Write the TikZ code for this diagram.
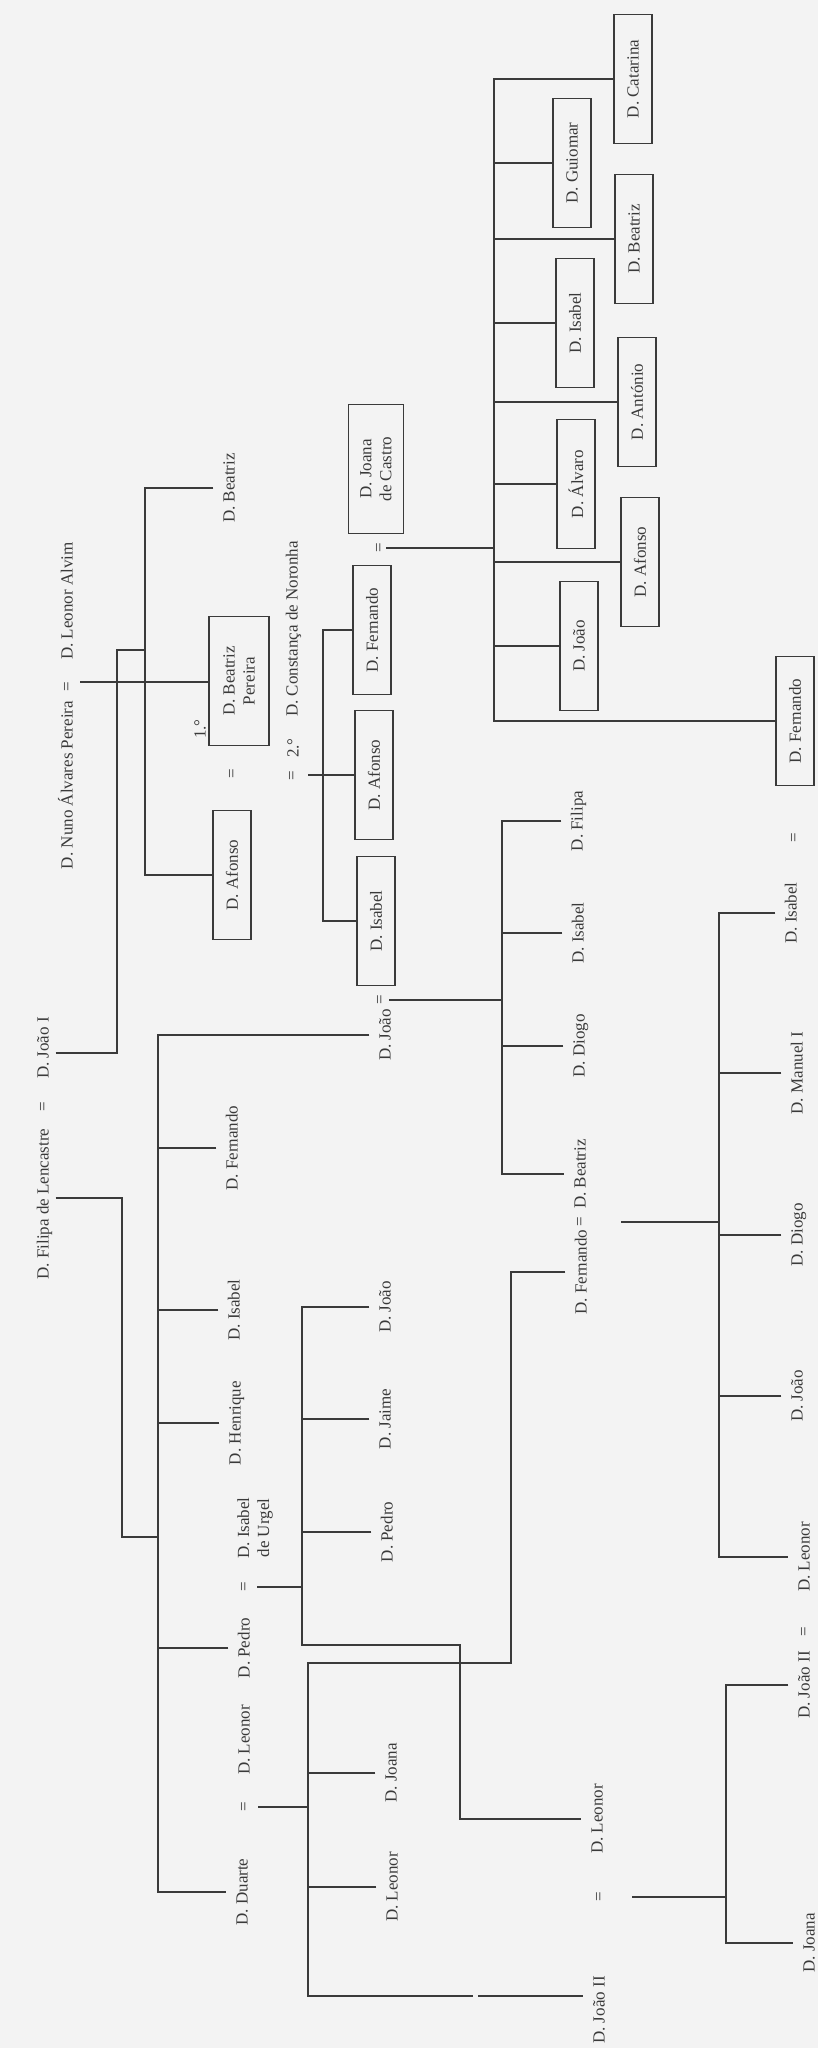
\documentclass[tikz,border=0pt]{standalone}
\usepackage{fontspec}
\setmainfont{Liberation Serif}
\definecolor{ink}{RGB}{58,58,58}
\definecolor{paper}{RGB}{243,243,243}
\begin{document}
\begin{tikzpicture}[x=1bp,y=-1bp,
  ln/.style={draw=ink,line width=1.6bp},
  lbl/.style={rotate=90,text=ink,font=\fontsize{17bp}{20bp}\selectfont,text height=12bp,text depth=3bp,inner xsep=0pt,inner ysep=9bp},
  lblt/.style={lbl,inner ysep=4bp},
  lbltwo/.style={rotate=90,text=ink,font=\fontsize{17bp}{20bp}\selectfont,align=center,inner sep=0pt},
  eqs/.style={rotate=90,text=ink,font=\fontsize{17bp}{20bp}\selectfont,inner sep=1bp},
  bx/.style={rotate=90,draw=ink,line width=1.6bp,text=ink,font=\fontsize{17bp}{20bp}\selectfont,minimum width=129bp,minimum height=38bp,inner sep=0pt,align=center}]
\useasboundingbox (0,0) rectangle (818,2048);
\fill[paper] (0,0) rectangle (818,2048);

% ---------- top family (Fernando = Joana de Castro)
\node[bx] (cat) at (633,79) {D. Catarina};
\node[bx] (gui) at (572,163) {D. Guiomar};
\node[bx] (beaT) at (634,239) {D. Beatriz};
\node[bx] (isaT) at (575,323) {D. Isabel};
\node[bx] (ant) at (637,402) {D. António};
\node[bx] (alv) at (576,484) {D. Álvaro};
\node[bx] (afoT) at (640,562) {D. Afonso};
\node[bx] (joaT) at (579,646) {D. João};
\node[bx] (ferT) at (795,721) {D. Fernando};
\coordinate (busT) at (494,0);

\node[bx,minimum height=55bp] (jcas) at (376,469) {D. Joana\\de Castro};
\node[eqs] (eqFJ) at (380,548) {=};
\coordinate (mFJ) at (386,548);

% ---------- Afonso's children
\node[bx] (ferA) at (372,630) {D. Fernando};
\node[bx] (afoA) at (374,775) {D. Afonso};
\node[bx] (isaA) at (376,921) {D. Isabel};
\coordinate (busA) at (323,0);

\node[eqs] (eqC) at (293,776) {=};
\node[eqs] (degC) at (293,748) {2.°};
\node[lbl] (cons) at (293,629) {D. Constança de Noronha};
\coordinate (mC) at (308,775);

\node[bx,minimum height=60bp] (bper) at (239,681) {D. Beatriz\\Pereira};
\node[eqs] (deg1) at (200,729) {1.°};
\node[eqs] (eqAB) at (233,774) {=};
\node[bx] (afoD) at (232,875) {D. Afonso};
\node[lbl] (beaN) at (230,488) {D. Beatriz};
\coordinate (busN) at (145,0);

% ---------- Nuno
\node[lblt] (alvim) at (68,601) {D. Leonor Alvim};
\node[eqs] (eqN) at (68,687) {=};
\node[lblt] (nuno) at (68,785) {D. Nuno Álvares Pereira};
\coordinate (mN) at (80,682);

% ---------- João I = Filipa
\node[lblt] (jI) at (44,1048) {D. João I};
\node[eqs] (eqJF) at (44,1107) {=};
\node[lblt] (fil) at (44,1204) {D. Filipa de Lencastre};
\coordinate (jIup) at (117,650);
\coordinate (filturn) at (122,1537);
\coordinate (busF) at (158,0);

% ---------- Filipa's children
\node[lbl] (joF) at (386,1035) {D. João};
\node[eqs] (eqJI) at (381,1000) {=};
\coordinate (mJI) at (389,1000);
\node[lbl] (ferF) at (233,1148) {D. Fernando};
\node[lbl] (isaF) at (235,1310) {D. Isabel};
\node[lbl] (hen) at (236,1423) {D. Henrique};
\node[lbltwo] (urg) at (255,1528) {D. Isabel\\de Urgel};
\node[eqs] (eqPI) at (245,1587) {=};
\coordinate (mPI) at (257,1587);
\node[lbl] (ped) at (245,1648) {D. Pedro};
\node[lbl] (leoD) at (245,1740) {D. Leonor};
\node[eqs] (eqDL) at (245,1807) {=};
\coordinate (mDL) at (258,1807);
\node[lbl] (dua) at (243,1892) {D. Duarte};

% ---------- Pedro's children
\node[lbl] (joP) at (386,1307) {D. João};
\node[lbl] (jai) at (386,1419) {D. Jaime};
\node[lbl] (peP) at (388,1532) {D. Pedro};
\coordinate (busP) at (302,0);
\coordinate (pbot) at (302,1645);
\coordinate (pturn) at (460,1645);

% ---------- Duarte's children
\node[lbl] (joaD) at (392,1773) {D. Joana};
\node[lbl] (leoDD) at (393,1887) {D. Leonor};
\coordinate (busD) at (308,1663);
\coordinate (dturn) at (511,1663);
\coordinate (gapL) at (473,1996);
\coordinate (gapR) at (478,1996);

% ---------- João = Isabel children
\node[lbl] (filJ) at (578,821) {D. Filipa};
\node[lbl] (isaJ) at (579,933) {D. Isabel};
\node[lbl] (dioJ) at (580,1046) {D. Diogo};
\node[lbl] (beaJ) at (581,1174) {D. Beatriz};
\node[eqs] (eqFB) at (581,1222) {=};
\node[lbl] (ferJ) at (582,1272) {D. Fernando};
\coordinate (busJ) at (502,0);
\coordinate (mFB) at (621,1222);

% ---------- bottom middle
\node[lbl] (leoP) at (598,1819) {D. Leonor};
\node[eqs] (eqAL) at (600,1897) {=};
\node[lbl] (jIIa) at (600,2010) {D. João II};
\coordinate (mAL) at (632,1897);

% ---------- right column
\node[eqs] (eqFI) at (795,838) {=};
\node[lbl] (isaR) at (792,913) {D. Isabel};
\node[lbl] (manR) at (798,1073) {D. Manuel I};
\node[lbl] (dioR) at (798,1235) {D. Diogo};
\node[lbl] (joaR) at (798,1396) {D. João};
\node[lbl] (leoR) at (805,1557) {D. Leonor};
\node[eqs] (eqR) at (805,1632) {=};
\node[lbl] (jIIR) at (805,1685) {D. João II};
\node[lbl] (joaR2) at (810,1943) {D. Joana};
\coordinate (busFB) at (719,0);
\coordinate (busJL) at (726,0);

% ================= connectors
\draw[ln] (cat.north) -| (ferT.north -| busT) -- (ferT.north);
\foreach \n in {gui,beaT,isaT,ant,alv,afoT,joaT} \draw[ln] (\n.north) -- (\n.north -| busT);
\draw[ln] (mFJ) -- (mFJ -| busT);

\draw[ln] (ferA.north) -| (isaA.north -| busA) -- (isaA.north);
\draw[ln] (mC) -- (mC -| afoA.north);

\draw[ln] (mN) -- (mN -| bper.north);
\draw[ln] (beaN.north) -| (afoD.north -| busN) -- (afoD.north);
\draw[ln] ([yshift=-5bp]jI.south) -| (jIup) -- (jIup -| busN);

\draw[ln] ([yshift=6bp]fil.south) -| (filturn) -- (filturn -| busF);
\draw[ln] (joF.north) -| (dua.north -| busF) -- (dua.north);
\foreach \n in {ferF,isaF,hen,ped} \draw[ln] (\n.north) -- (\n.north -| busF);

\draw[ln] (mPI) -- (mPI -| busP);
\draw[ln] (joP.north) -| (pbot) -- (pturn) |- (leoP.north);
\foreach \n in {jai,peP} \draw[ln] (\n.north) -- (\n.north -| busP);

\draw[ln] (mDL) -- (mDL -| busD);
\draw[ln] (ferJ.north) -| (dturn) -- (busD) |- (gapL);
\draw[ln] (gapR) -- (gapR -| jIIa.north);
\foreach \n in {joaD,leoDD} \draw[ln] (\n.north) -- (\n.north -| busD);

\draw[ln] (mJI) -- (mJI -| busJ);
\draw[ln] (filJ.north) -| (beaJ.north -| busJ) -- (beaJ.north);
\foreach \n in {isaJ,dioJ} \draw[ln] (\n.north) -- (\n.north -| busJ);

\draw[ln] (mFB) -- (mFB -| busFB);
\draw[ln] (isaR.north) -| (leoR.north -| busFB) -- (leoR.north);
\foreach \n in {manR,dioR,joaR} \draw[ln] (\n.north) -- (\n.north -| busFB);

\draw[ln] (mAL) -- (mAL -| busJL);
\draw[ln] (jIIR.north) -| (joaR2.north -| busJL) -- (joaR2.north);
\end{tikzpicture}
\end{document}
